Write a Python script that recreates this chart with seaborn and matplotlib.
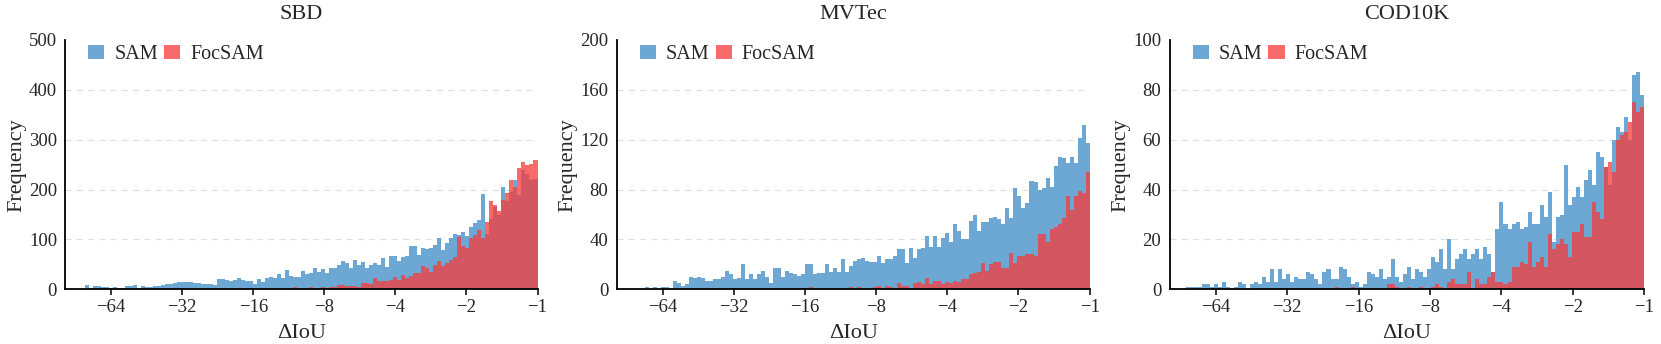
import numpy as np
import pandas as pd
import matplotlib
matplotlib.use("Agg")
import matplotlib.pyplot as plt
import seaborn as sns
from matplotlib.patches import Patch
from matplotlib.ticker import FixedLocator, FixedFormatter, NullLocator

# ---------------- data (counts per log-spaced bin, from -100 to -1) ----------------
titles = ["SBD", "MVTec", "COD10K"]
series_names = ["SAM", "FocSAM"]

sbd_sam = [0, 0, 0, 0, 1, 8, 3, 7, 7, 4, 4, 3, 5, 3, 3, 7, 7, 8, 2, 7,
           4, 4, 6, 7, 8, 10, 10, 13, 14, 14, 14, 14, 13, 12, 11, 10, 10, 8, 21, 21,
           19, 17, 19, 23, 19, 17, 17, 10, 21, 15, 22, 25, 23, 30, 23, 38, 27, 25, 25, 37,
           30, 33, 43, 34, 41, 32, 43, 43, 49, 57, 52, 43, 58, 48, 55, 42, 49, 52, 49, 62,
           45, 67, 67, 57, 64, 67, 87, 87, 69, 83, 80, 83, 89, 102, 79, 93, 102, 111, 108, 115,
           107, 124, 133, 138, 192, 110, 140, 165, 150, 205, 178, 195, 220, 190, 240, 232, 220, 222]
sbd_foc = [0] * 56 + [3, 4, 2, 3, 2, 4, 2, 3, 4, 3, 5, 4, 8, 8, 6, 6, 7, 5, 12, 12,
           10, 22, 17, 17, 17, 19, 25, 19, 28, 22, 27, 33, 33, 47, 43, 35, 49, 57, 47, 53,
           59, 65, 104, 87, 82, 102, 109, 119, 102, 135, 177, 170, 157, 180, 193, 220, 205, 243, 256, 250,
           252, 260]

mvtec_sam = [0, 0, 0, 0, 0, 0, 0, 2, 0, 2, 0, 2, 2, 0, 7, 5, 3, 4, 10, 9,
             10, 9, 7, 7, 8, 8, 10, 15, 12, 8, 9, 20, 8, 12, 8, 12, 15, 10, 5, 17,
             17, 10, 15, 13, 12, 11, 12, 20, 20, 12, 13, 13, 20, 14, 17, 14, 24, 14, 19, 23,
             24, 25, 23, 22, 22, 27, 21, 24, 24, 27, 32, 32, 21, 33, 25, 32, 33, 43, 34, 43,
             34, 41, 45, 38, 52, 47, 40, 40, 55, 60, 47, 54, 54, 57, 58, 56, 52, 65, 57, 81,
             75, 65, 69, 87, 86, 80, 81, 89, 82, 99, 106, 105, 101, 106, 101, 121, 132, 117]
mvtec_foc = [0] * 48 + [2, 0, 0, 0, 0, 0, 0, 0, 0, 0, 2, 0, 2, 0, 0, 0, 2, 3, 1, 3,
             2, 1, 5, 3, 3, 1, 5, 6, 4, 9, 4, 7, 7, 4, 6, 5, 7, 6, 8, 8,
             12, 13, 14, 21, 15, 20, 22, 22, 17, 17, 29, 21, 27, 27, 28, 28, 27, 44, 44, 38,
             48, 50, 52, 57, 75, 64, 75, 79, 77, 94]

cod_sam = [0, 0, 0, 0, 1, 1, 1, 1, 2, 2, 1, 2, 1, 3, 1, 0, 1, 3, 2, 0,
           2, 3, 2, 5, 3, 8, 3, 8, 4, 6, 3, 5, 4, 4, 7, 6, 4, 2, 7, 8,
           4, 4, 9, 8, 5, 2, 3, 1, 2, 7, 6, 5, 8, 4, 5, 12, 5, 3, 6, 9,
           4, 8, 7, 5, 8, 13, 11, 16, 8, 20, 8, 12, 14, 16, 12, 14, 16, 12, 17, 14,
           7, 24, 35, 26, 24, 26, 27, 24, 25, 31, 26, 26, 34, 29, 39, 19, 29, 30, 50, 34,
           37, 41, 37, 44, 48, 42, 55, 53, 49, 42, 60, 65, 63, 69, 60, 86, 87, 78]
cod_foc = [0] * 41 + [1, 0, 0, 0, 1, 0, 0, 0, 0, 0, 0, 0, 0, 2, 2, 1, 0, 0, 1,
           0, 0, 1, 0, 0, 1, 2, 1, 0, 3, 4, 2, 2, 2, 7, 0, 4, 2, 2, 5,
           7, 3, 3, 2, 3, 9, 9, 11, 10, 19, 9, 11, 13, 9, 22, 16, 18, 20, 18, 13,
           23, 23, 26, 21, 21, 35, 31, 28, 49, 51, 47, 60, 62, 63, 67, 75, 71, 73]

sam_counts = [sbd_sam, mvtec_sam, cod_sam]
foc_counts = [sbd_foc, mvtec_foc, cod_foc]

x_ticks = [-64, -32, -16, -8, -4, -2, -1]
x_tick_labels = ["\u221264", "\u221232", "\u221216", "\u22128", "\u22124", "\u22122", "\u22121"]
y_max = [500, 200, 100]
y_step = [100, 40, 20]

# ---------------- style ----------------
BLUE = "#6ca8d3"
RED = "#f63c3c"
RED_ALPHA = 0.76

sns.set_theme(style="white")
plt.rcParams["font.family"] = ["Liberation Serif", "DejaVu Serif"]
plt.rcParams["axes.unicode_minus"] = True

fig = plt.figure(figsize=(16.61, 3.44), dpi=100)
lefts = [65.4, 616.8, 1169.6]
rights = [537.5, 1089.6, 1644.3]
W, H = 1661.0, 344.0
bottom = (H - 289.3) / H
height = (289.3 - 40.0) / H

n_bins = 118
edges = -np.logspace(2, 0, n_bins + 1)          # -100 ... -1
centers = -np.sqrt(edges[:-1] * edges[1:])
bin_list = [float(e) for e in edges]

for k in range(3):
    ax = fig.add_axes([lefts[k] / W, bottom, (rights[k] - lefts[k]) / W, height])
    df = pd.DataFrame({"delta": centers,
                       "sam": np.asarray(sam_counts[k], dtype=float),
                       "foc": np.asarray(foc_counts[k], dtype=float)})

    sns.histplot(data=df, x="delta", weights="sam", bins=bin_list, ax=ax, element="step",
                 fill=True, color=BLUE, alpha=1.0, linewidth=0, edgecolor="none")
    sns.histplot(data=df, x="delta", weights="foc", bins=bin_list, ax=ax, element="step",
                 fill=True, color=RED, alpha=RED_ALPHA, linewidth=0, edgecolor="none")

    ax.set_xscale("symlog", base=2, linthresh=0.5)
    ax.set_xlim(-100, -1)
    ax.xaxis.set_major_locator(FixedLocator(x_ticks))
    ax.xaxis.set_major_formatter(FixedFormatter(x_tick_labels))
    ax.xaxis.set_minor_locator(NullLocator())

    ax.set_ylim(0, y_max[k])
    ax.set_yticks(np.arange(0, y_max[k] + 1, y_step[k]))
    ax.yaxis.grid(True, linestyle=(0, (5, 4)), color="#e0e0e0", linewidth=0.9)
    ax.xaxis.grid(False)
    ax.set_axisbelow(True)
    glines = ax.get_ygridlines()
    glines[-1].set_visible(False)
    glines[0].set_visible(False)

    for s in ["top", "right"]:
        ax.spines[s].set_visible(False)
    for s in ["left", "bottom"]:
        ax.spines[s].set_color("black")
        ax.spines[s].set_linewidth(1.3)

    ax.tick_params(axis="x", which="major", direction="out", length=4, width=1.1,
                   color="black", labelsize=13.5, pad=3, bottom=True)
    ax.tick_params(axis="y", which="major", length=0, labelsize=13.5, pad=6)

    ax.set_xlabel("\u0394IoU", fontsize=16, labelpad=6)
    ax.set_ylabel("Frequency", fontsize=16, labelpad=2)
    ax.set_title(titles[k], fontsize=16, pad=15)

    handles = [Patch(facecolor=BLUE, edgecolor="none"),
               Patch(facecolor=RED, alpha=RED_ALPHA, edgecolor="none")]
    ax.legend(handles, series_names, loc="upper left", bbox_to_anchor=(0.04, 0.995),
              ncol=2, frameon=False, fontsize=14.5, handlelength=0.8, handleheight=0.7,
              handletextpad=0.5, columnspacing=0.3, borderaxespad=0.0, borderpad=0.2)

fig.savefig("out.png", dpi=100)
